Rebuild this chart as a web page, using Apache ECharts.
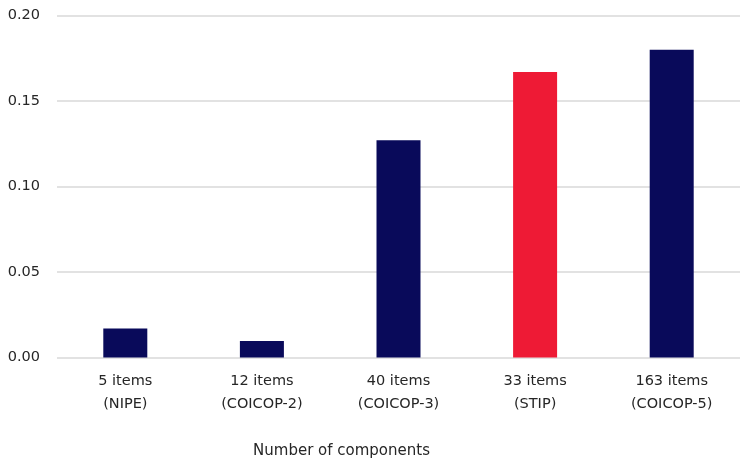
<!DOCTYPE html>
<html><head><meta charset="utf-8">
<script src="https://cdn.jsdelivr.net/npm/echarts@6/dist/echarts.min.js"></script>
<style>html,body{margin:0;padding:0;background:#fff}#c{width:750px;height:467px}</style>
</head><body><div id="c"></div>
<script>
const categories = ['5 items\n(NIPE)', '12 items\n(COICOP-2)', '40 items\n(COICOP-3)', '33 items\n(STIP)', '163 items\n(COICOP-5)'];
const values = [0.017, 0.0096, 0.127, 0.167, 0.180];
const barColors = ['#090A5A', '#090A5A', '#090A5A', '#EE1A35', '#090A5A'];
const yTicks = [0, 0.05, 0.10, 0.15, 0.20];
const xAxisTitle = 'Number of components';
const FONT = '"DejaVu Sans", sans-serif';
const TXT = '#262626';
const chart = echarts.init(document.getElementById('c'));
chart.setOption({
  animation: false,
  grid: { left: 57, right: 10, top: 15.5, bottom: 109.5 },
  xAxis: {
    type: 'category', data: categories,
    axisLine: { show: false }, axisTick: { show: false },
    axisLabel: { color: TXT, fontFamily: FONT, fontSize: 14.5, lineHeight: 23, margin: 12 }
  },
  yAxis: {
    type: 'value', min: yTicks[0], max: yTicks[yTicks.length - 1], interval: 0.05,
    axisLine: { show: false }, axisTick: { show: false },
    splitLine: { lineStyle: { color: '#d9d9d9', width: 1.5 } },
    axisLabel: { color: TXT, fontFamily: FONT, fontSize: 14.5, margin: 17,
      formatter: v => v.toFixed(2) }
  },
  series: [{
    type: 'bar', barWidth: 44,
    data: values.map((v, i) => ({ value: v, itemStyle: { color: barColors[i] } }))
  }],
  graphic: [{
    type: 'text', x: 341.5, y: 451,
    style: { text: xAxisTitle, fill: TXT, font: '15px "DejaVu Sans", sans-serif',
      textAlign: 'center', textVerticalAlign: 'middle' }
  }]
});
</script></body></html>
